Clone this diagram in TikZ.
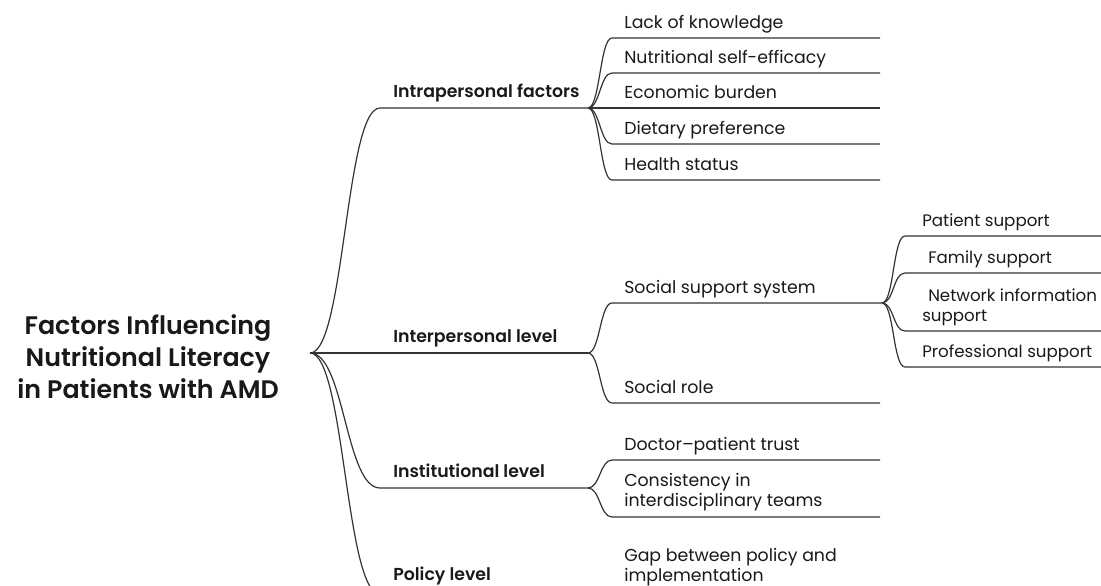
\documentclass[tikz,border=0pt]{standalone}
\usepackage{fontspec}
\setmainfont{Poppins}[BoldFont={Poppins SemiBold}]
\usetikzlibrary{positioning}

\tikzset{
  branch/.style={line width=0.9pt, draw=black!80},
  fanout/.style={out=0, in=180, distance=#1},
  fanout/.default=9pt,
  titlelbl/.style={font=\fontsize{19}{24}\selectfont\bfseries, align=center, text=black!90},
  toplbl/.style={font=\fontsize{13}{15}\selectfont\bfseries, anchor=base west, inner sep=0pt, text=black!90},
  leaflbl/.style={font=\fontsize{13}{15}\selectfont, anchor=base west, align=left, inner sep=0pt, text=black!90},
  subleaflbl/.style={leaflbl, font=\fontsize{12.5}{15}\selectfont},
}

\begin{document}
\begin{tikzpicture}[x=0.75pt, y=-0.75pt]
        \useasboundingbox (0,0) rectangle (1101,586);
        \clip (0,0) rectangle (1101,586);
        % Central topic
        \node[titlelbl] (title) at (148,357) {Factors Influencing\\Nutritional Literacy\\in Patients with AMD};
        \coordinate (root) at (310,353);
        % First level: the four levels of influence
        \coordinate (intraL) at (380,108);  \coordinate (intra) at (588,108);
        \coordinate (inter) at (588,353);
        \coordinate (instL) at (380,488);   \coordinate (inst) at (588,488);
        \coordinate (polL) at (380,594);    \coordinate (pol) at (588,594);
        \node[toplbl] (intraT) at (393,97) {Intrapersonal factors};
        \node[toplbl] (interT) at (393,342) {Interpersonal level};
        \node[toplbl] (instT) at (393,477) {Institutional level};
        \node[toplbl] (polT) at (393,580) {Policy level};
        \draw[branch] (root) to[fanout=26pt] (intraL) -- (intra);
        \draw[branch] (root) -- (inter);
        \draw[branch] (root) to[fanout=26pt] (instL) -- (inst);
        \draw[branch] (root) to[fanout=26pt] (polL) -- (pol);
        % Second level: intrapersonal factors
        \foreach \name/\y/\txt in {lack/38/Lack of knowledge,
                                   effic/73/Nutritional self-efficacy,
                                   econ/108/Economic burden,
                                   diet/144/Dietary preference,
                                   health/180/Health status} {
          \node[leaflbl] (\name T) at (624,\y-10) {\txt};
          \draw[branch] (intra) to[fanout] (612,\y) coordinate (\name L) -- (880,\y) coordinate (\name);
        }
        % Second level: interpersonal level
        \coordinate (socsupL) at (612,303); \coordinate (socsup) at (882,303);
        \coordinate (rolL) at (612,403);    \coordinate (rol) at (880,403);
        \node[leaflbl] (socsupT) at (624,293) {Social support system};
        \node[leaflbl] (rolT) at (624,393) {Social role};
        \draw[branch] (inter) to[fanout] (socsupL) -- (socsup);
        \draw[branch] (inter) to[fanout] (rolL) -- (rol);
        % Third level: kinds of social support (base = last text line)
        \foreach \name/\y/\txt in {patsup/236/Patient support,
                                   famsup/273/\hspace{4.5pt}Family support,
                                   netsup/331/\hspace{4.5pt}Network information\\support,
                                   prosup/367/Professional support} {
          \node[subleaflbl] (\name T) at (922,\y-10) {\txt};
          \draw[branch] (socsup) to[fanout] (905,\y) coordinate (\name L) -- (1101,\y) coordinate (\name);
        }
        % Second level: institutional level
        \coordinate (trustL) at (612,460);  \coordinate (trust) at (880,460);
        \coordinate (teamL) at (612,517);   \coordinate (team) at (880,517);
        \node[leaflbl] (trustT) at (624,450) {Doctor--patient trust};
        \node[leaflbl] (teamT) at (624,506) {Consistency in\\interdisciplinary teams};
        \draw[branch] (inst) to[fanout] (trustL) -- (trust);
        \draw[branch] (inst) to[fanout] (teamL) -- (team);
        % Second level: policy level
        \coordinate (gap) at (880,594);
        \node[leaflbl] (gapT) at (624,581) {Gap between policy and\\implementation};
        \draw[branch] (pol) -- (gap);
\end{tikzpicture}
\end{document}
